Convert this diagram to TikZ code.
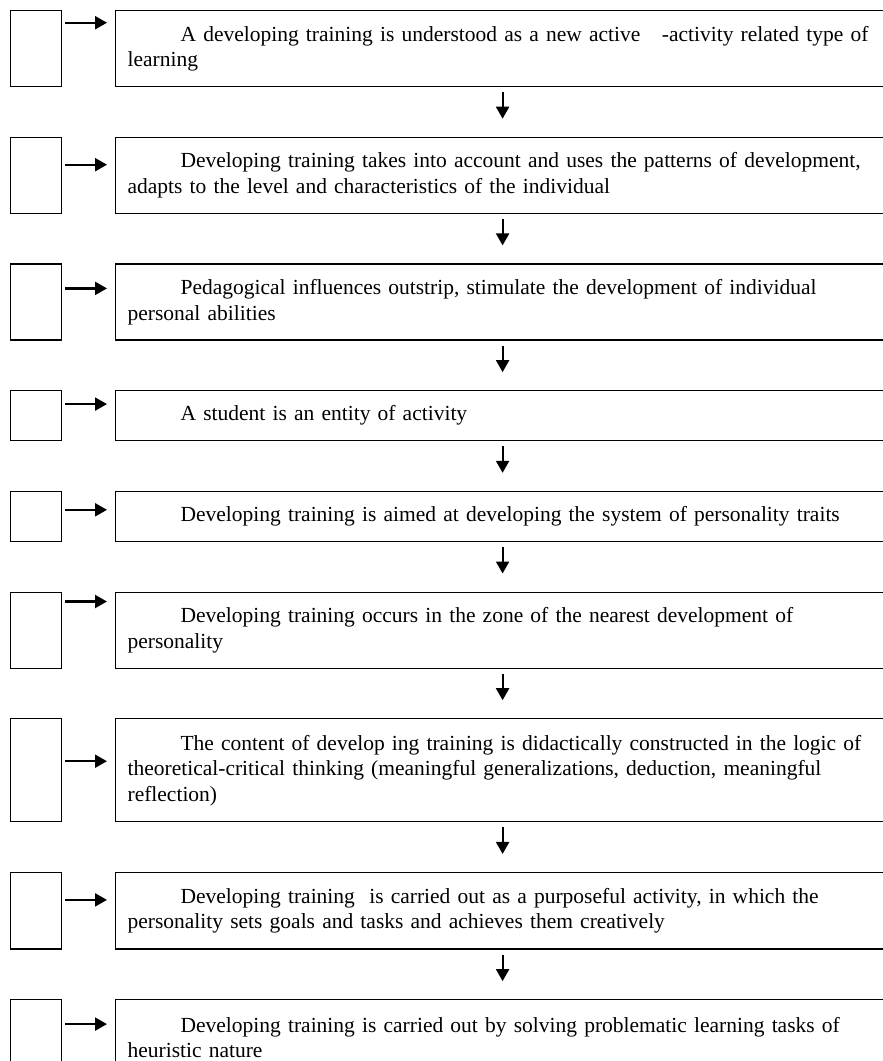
\documentclass[tikz,border=0pt]{standalone}
\usepackage{fontspec}
\setmainfont{Liberation Serif}
\usepackage{tikz}
\usetikzlibrary{positioning,arrows.meta}
\tikzset{
    bbox/.style={
        rectangle,
        draw=black,
        line width=1.2pt,
        minimum width=780pt,
        text width=756pt,
        inner xsep=12pt,
        inner ysep=0pt,
        align=left,
        font=\fontsize{21.5}{25.5}\selectfont
    },
    sbox/.style={
        rectangle,
        draw=black,
        line width=1.2pt,
        minimum width=51pt,
        inner sep=0pt
    },
    harr/.style={-{Triangle[length=12pt,width=13pt]},line width=2.2pt,shorten <=3pt,shorten >=8pt},
    varr/.style={-{Triangle[length=12pt,width=13pt]},line width=2.2pt,shorten <=5pt,shorten >=18pt}
}
\newcommand{\ind}{\hspace*{53pt}}

\begin{document}
\begin{tikzpicture}[x=1pt,y=1pt,node distance=49.5pt]
\useasboundingbox (0,0) rectangle (883,-1061);

% Statement boxes
\node[bbox, minimum height=76pt, anchor=north west] (b1) at (115,-10)
  {\ind A developing training is understood as a new active\ \ \ -activity related type of\\learning};
\node[bbox, minimum height=76pt, below=of b1] (b2)
  {\ind Developing training takes into account and uses the patterns of development,\\adapts to the level and characteristics of the individual};
\node[bbox, minimum height=76pt, below=of b2] (b3)
  {\ind Pedagogical influences outstrip, stimulate the development of individual\\personal abilities};
\node[bbox, minimum height=50pt, below=of b3] (b4)
  {\ind A student is an entity of activity};
\node[bbox, minimum height=50pt, below=of b4] (b5)
  {\ind Developing training is aimed at developing the system of personality traits};
\node[bbox, minimum height=76pt, below=of b5] (b6)
  {\ind Developing training occurs in the zone of the nearest development of\\personality};
\node[bbox, minimum height=103pt, below=of b6] (b7)
  {\ind The content of develop ing training is didactically constructed in the logic of\\theoretical-critical thinking (meaningful generalizations, deduction, meaningful\\reflection)};
\node[bbox, minimum height=76.5pt, below=of b7] (b8)
  {\ind Developing training\ \ is carried out as a purposeful activity, in which the\\personality sets goals and tasks and achieves them creatively};
\node[bbox, minimum height=76pt, below=of b8] (b9)
  {\ind Developing training is carried out by solving problematic learning tasks of\\heuristic nature};

% Empty boxes on the left
\node[sbox, minimum height=76pt, left=53pt of b1] (s1) {};
\node[sbox, minimum height=76pt, left=53pt of b2] (s2) {};
\node[sbox, minimum height=76pt, left=53pt of b3] (s3) {};
\node[sbox, minimum height=50pt, left=53pt of b4] (s4) {};
\node[sbox, minimum height=50pt, left=53pt of b5] (s5) {};
\node[sbox, minimum height=76pt, left=53pt of b6] (s6) {};
\node[sbox, minimum height=103pt, left=53pt of b7] (s7) {};
\node[sbox, minimum height=76.5pt, left=53pt of b8] (s8) {};
\node[sbox, minimum height=76pt, left=53pt of b9] (s9) {};

% Arrows from the left boxes
\draw[harr] ([yshift=-12.7pt]s1.north east) -- ([yshift=-12.7pt]b1.north west);
\draw[harr] ([yshift=-28pt]s2.north east) -- ([yshift=-28pt]b2.north west);
\draw[harr] ([yshift=-25pt]s3.north east) -- ([yshift=-25pt]b3.north west);
\draw[harr] ([yshift=-14pt]s4.north east) -- ([yshift=-14pt]b4.north west);
\draw[harr] ([yshift=-19pt]s5.north east) -- ([yshift=-19pt]b5.north west);
\draw[harr] ([yshift=-10pt]s6.north east) -- ([yshift=-10pt]b6.north west);
\draw[harr] ([yshift=-43pt]s7.north east) -- ([yshift=-43pt]b7.north west);
\draw[harr] ([yshift=-28pt]s8.north east) -- ([yshift=-28pt]b8.north west);
\draw[harr] ([yshift=-25pt]s9.north east) -- ([yshift=-25pt]b9.north west);

% Arrows down the chain
\foreach \a/\b in {b1/b2,b2/b3,b3/b4,b4/b5,b5/b6,b6/b7,b7/b8,b8/b9}
  \draw[varr] ([xshift=-3pt]\a.south) -- ([xshift=-3pt]\b.north);

\end{tikzpicture}
\end{document}
